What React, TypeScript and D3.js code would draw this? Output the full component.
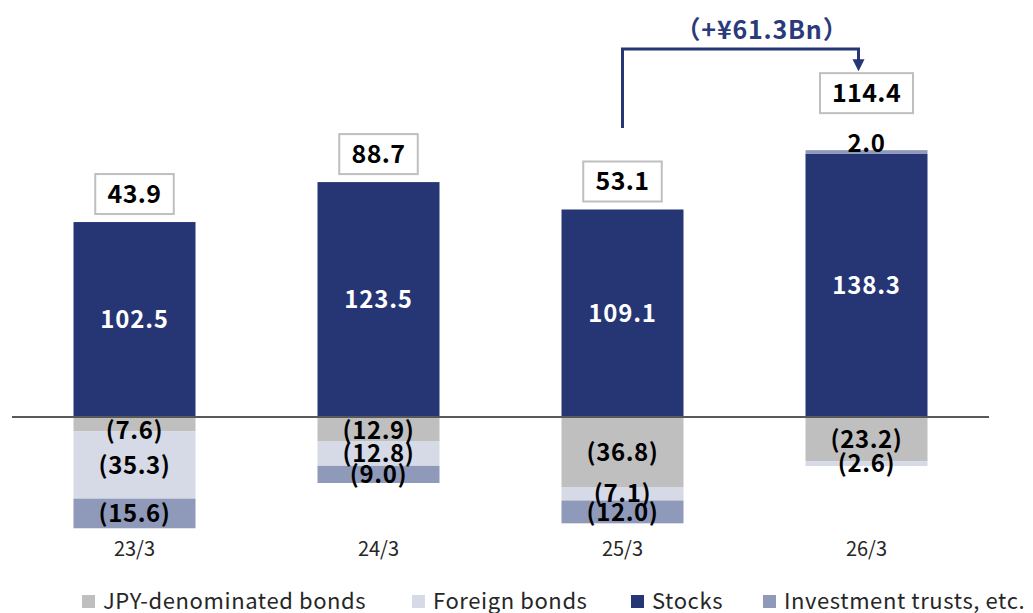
import React from "react";
import * as d3 from "d3";

const categories = ["23/3", "24/3", "25/3", "26/3"];
const jpyBonds = [-7.6, -12.9, -36.8, -23.2];
const foreignBonds = [-35.3, -12.8, -7.1, -2.6];
const stocks = [102.5, 123.5, 109.1, 138.3];
const investTrusts = [-15.6, -9.0, -12.0, 2.0];
const totals = [43.9, 88.7, 53.1, 114.4];

const seriesNames = ["JPY-denominated bonds", "Foreign bonds", "Stocks", "Investment trusts, etc."];
const seriesColors = ["#bfbfbf", "#d6d9e6", "#263574", "#8f99ba"];

const W = 1033;
const H = 613;
const FONT = "'Noto Sans CJK JP', 'Noto Sans', sans-serif";

function fmt(v: number) {
  return v < 0 ? `(${Math.abs(v).toFixed(1)})` : v.toFixed(1);
}

export default function App() {
  const x = d3.scaleBand<string>().domain(categories).range([12.5, 988.5]).paddingInner(0.5).paddingOuter(0.25);
  const y = d3.scaleLinear().domain([-70, 200]).range([417 + 70 * 1.902, 417 - 200 * 1.902]);
  const zeroY = y(0);
  const bw = x.bandwidth();

  const series = [jpyBonds, foreignBonds, stocks, investTrusts];
  // stacking order: positive -> stocks, invest ; negative -> jpy, foreign, invest
  const stackOrder = [2, 0, 1, 3];

  const segs: any[] = [];
  categories.forEach((c, i) => {
    let pos = 0;
    let neg = 0;
    stackOrder.forEach((s) => {
      const v = series[s][i];
      let y0, y1;
      if (v >= 0) {
        y0 = pos;
        y1 = pos + v;
        pos = y1;
      } else {
        y0 = neg;
        y1 = neg + v;
        neg = y1;
      }
      segs.push({ c, i, s, v, y0, y1 });
    });
  });

  const topOf = (i: number) => {
    let pos = 0;
    series.forEach((arr) => {
      if (arr[i] > 0) pos += arr[i];
    });
    return y(pos);
  };
  const hasTopLabel = (i: number) => investTrusts[i] > 0;
  const boxBottom = (i: number) => topOf(i) - (hasTopLabel(i) ? 37 : 8);

  const xc = (c: string) => (x(c) as number) + bw / 2;
  const boxW = (t: string) => t.replace(/\./g, "").length * 14.5 + 7 + 28;

  const iFrom = 2;
  const iTo = 3;
  const arrowLeft = xc(categories[iFrom]);
  const arrowRight = xc(categories[iTo]) - 8;
  const arrowTop = 49;
  const arrowBottom = 128;
  const toBoxTop = boxBottom(iTo) - 40;
  const diff = totals[iTo] - totals[iFrom];

  const legendX = [82, 412, 631, 763];

  return (
    <svg width={W} height={H} style={{ position: "absolute", left: 0, top: 0, background: "#fff" }} fontFamily={FONT}>
      {segs.map((d, k) => (
        <rect
          key={k}
          x={x(d.c)}
          width={bw}
          y={Math.min(y(d.y0), y(d.y1))}
          height={Math.abs(y(d.y0) - y(d.y1))}
          fill={seriesColors[d.s]}
        />
      ))}
      <line x1={12} x2={989} y1={zeroY} y2={zeroY} stroke="#595959" strokeWidth={2} />
      {segs.map((d, k) => {
        let cy = (y(d.y0) + y(d.y1)) / 2;
        if (d.v < 0) cy = Math.max(cy, zeroY + 13);
        else if (d.s !== 2) cy = y(d.y1) - 7;
        const white = d.s === 2;
        return (
          <text
            key={"l" + k}
            x={xc(d.c)}
            y={cy}
            dy="0.36em"
            textAnchor="middle"
            fontSize={24}
            letterSpacing={d.s === 2 ? 0.8 : 0.6}
            fontWeight="bold"
            fill={white ? "#ffffff" : "#000000"}
          >
            {fmt(d.v)}
          </text>
        );
      })}
      {categories.map((c, i) => {
        const t = totals[i].toFixed(1);
        const bwid = boxW(t);
        const bottom = boxBottom(i);
        return (
          <g key={"t" + c}>
            <rect x={xc(c) - bwid / 2} y={bottom - 40} width={bwid} height={40} fill="#fff" stroke="#bfbfbf" strokeWidth={2} />
            <text x={xc(c)} y={bottom - 20} dy="0.36em" textAnchor="middle" fontSize={25} letterSpacing={0.4} fontWeight="bold" fill="#000">
              {t}
            </text>
            <text x={xc(c)} y={549} dy="0.36em" textAnchor="middle" fontSize={20} fill="#262626">
              {c}
            </text>
          </g>
        );
      })}
      <path
        d={`M${arrowLeft},${arrowBottom}V${arrowTop}H${arrowRight}V${toBoxTop - 12}`}
        fill="none"
        stroke="#263574"
        strokeWidth={3}
      />
      <path
        d={`M${arrowRight - 6},${toBoxTop - 14}L${arrowRight + 6},${toBoxTop - 14}L${arrowRight},${toBoxTop - 2}Z`}
        fill="#263574"
      />
      <text x={762} y={30} dy="0.36em" textAnchor="middle" fontSize={25} letterSpacing={0.8} fontWeight="bold" fill="#2b3a7a">
        {`（+¥${diff.toFixed(1)}Bn）`}
      </text>
      {seriesNames.map((n, i) => (
        <g key={"lg" + i}>
          <rect x={legendX[i]} y={595} width={13} height={13} fill={seriesColors[i]} />
          <text x={legendX[i] + 21} y={601.5} dy="0.36em" fontSize={22} letterSpacing={0.6} fill="#262626">
            {n}
          </text>
        </g>
      ))}
    </svg>
  );
}
